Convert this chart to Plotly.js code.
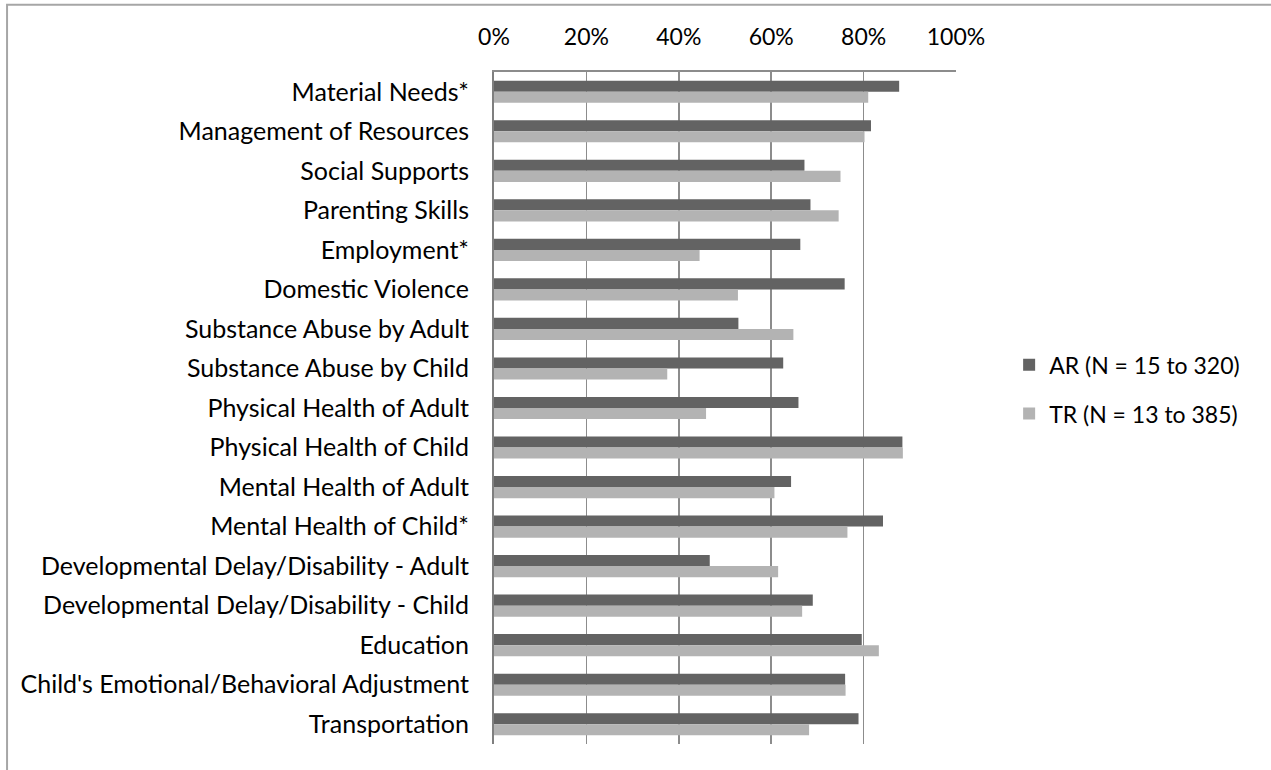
<!DOCTYPE html>
<html>
<head>
<meta charset="utf-8">
<script src="https://cdn.plot.ly/plotly-3.0.1.min.js"></script>
<style>
  html, body { margin: 0; padding: 0; background: #fff; }
  #chart { width: 1271px; height: 770px; }
</style>
</head>
<body>
<div id="chart"></div>
<script>
// Share of families whose needs were met, by area of need
const categories = [
  "Material Needs*",
  "Management of Resources",
  "Social Supports",
  "Parenting Skills",
  "Employment*",
  "Domestic Violence",
  "Substance Abuse by Adult",
  "Substance Abuse by Child",
  "Physical Health of Adult",
  "Physical Health of Child",
  "Mental Health of Adult",
  "Mental Health of Child*",
  "Developmental Delay/Disability - Adult",
  "Developmental Delay/Disability - Child",
  "Education",
  "Child's Emotional/Behavioral Adjustment",
  "Transportation"
];

const arValues = [0.877, 0.816, 0.672, 0.685, 0.663, 0.759, 0.529, 0.626, 0.659, 0.884, 0.643, 0.842, 0.467, 0.690, 0.796, 0.760, 0.789];
const trValues = [0.810, 0.802, 0.750, 0.746, 0.445, 0.528, 0.648, 0.375, 0.459, 0.885, 0.607, 0.765, 0.615, 0.667, 0.833, 0.761, 0.682];

const seriesNames = ["AR (N = 15 to 320)", "TR (N = 13 to 385)"];
const tickValues = [0, 0.2, 0.4, 0.6, 0.8, 1.0];
const tickLabels = ["0%", "20%", "40%", "60%", "80%", "100%"];

const FONT = "Lato, 'Noto Sans', sans-serif";

const traces = [
  {
    type: "bar", orientation: "h",
    name: seriesNames[0],
    legendgroup: "ar",
    x: arValues, y: categories,
    marker: { color: "#636363" },
    hoverinfo: "skip"
  },
  {
    type: "bar", orientation: "h",
    name: seriesNames[1],
    legendgroup: "tr",
    x: trValues, y: categories,
    marker: { color: "#b3b3b3" },
    hoverinfo: "skip"
  }
];

const layout = {
  width: 1271,
  height: 770,
  paper_bgcolor: "#fff",
  plot_bgcolor: "#fff",
  font: { family: FONT, size: 24, color: "#000" },
  margin: { l: 494, r: 315, t: 72, b: 26, pad: 0 },
  barmode: "group",
  bargap: 0.44,
  bargroupgap: 0,
  showlegend: true,
  legend: {
    x: 1.115, y: 0.528, xanchor: "left", yanchor: "middle",
    font: { family: FONT, size: 23, color: "#000" },
    traceorder: "grouped",
    itemwidth: 30,
    tracegroupgap: 16,
    bgcolor: "rgba(0,0,0,0)"
  },
  xaxis: {
    side: "top",
    range: [0, 1],
    tickvals: tickValues,
    ticktext: tickLabels,
    showgrid: true,
    gridcolor: "#8c8c8c",
    gridwidth: 1.5,
    showline: true,
    linecolor: "#8c8c8c",
    linewidth: 2,
    zeroline: false,
    ticks: "",
    ticklabelstandoff: 16,
    tickfont: { family: FONT, size: 23, color: "#000" },
    fixedrange: true
  },
  yaxis: {
    type: "category",
    autorange: "reversed",
    showgrid: false,
    showline: true,
    linecolor: "#7f7f7f",
    linewidth: 2,
    zeroline: false,
    ticks: "",
    ticklabelstandoff: 18,
    tickfont: { family: FONT, size: 25, color: "#000" },
    fixedrange: true
  },
  shapes: [
    {
      type: "rect", xref: "paper", yref: "paper",
      x0: -1.054, x1: 1.8, y0: -0.2, y1: 1.1,
      line: { color: "#a6a6a6", width: 2 },
      fillcolor: "rgba(0,0,0,0)",
      layer: "below"
    }
  ]
};

Plotly.newPlot("chart", traces, layout, { displayModeBar: false, staticPlot: true });
</script>
</body>
</html>
